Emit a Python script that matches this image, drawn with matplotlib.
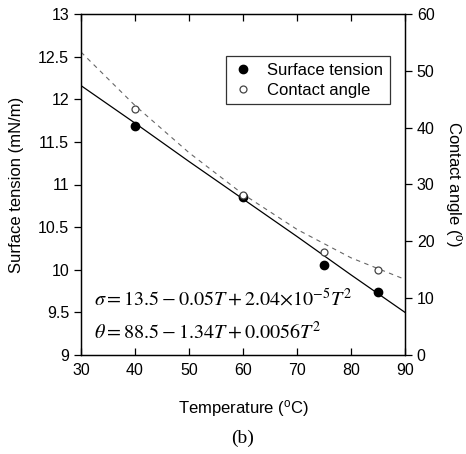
import numpy as np
import matplotlib
matplotlib.use("Agg")
from matplotlib import pyplot as plt

plt.rcParams['font.family'] = ['Liberation Sans', 'DejaVu Sans']
plt.rcParams['mathtext.fontset'] = 'stix'

# measured data
temp = [40, 60, 75, 85]
surface_tension = [11.69, 10.85, 10.06, 9.735]
contact_angle = [43.2, 28.2, 18.1, 15.0]

# fitted curves
fit_temp = [30, 40, 50, 60, 70, 80, 90]
fit_tension = [12.16, 11.72, 11.27, 10.83, 10.39, 9.94, 9.50]
fit_angle = [53.3, 43.9, 35.6, 28.3, 22.1, 17.1, 13.3]

fig = plt.figure(figsize=(4.66, 4.54), dpi=100)
ax = fig.add_axes([81/466, 1-355/454, 324/466, 341/454])
ax2 = ax.twinx()

ax.plot(fit_temp, fit_tension, color='black', lw=0.9, zorder=2)
ax.plot(temp, surface_tension, 'o', color='black', ms=6, label='Surface tension', zorder=3)
ax2.plot(fit_temp, fit_angle, color='#666666', lw=0.8, ls=(0, (4, 4)), zorder=2)
ax2.plot(temp, contact_angle, 'o', mfc='white', mec='#444444', mew=0.9, ms=5,
         label='Contact angle', zorder=3)

ax.set_xlim(30, 90)
ax.set_ylim(9, 13)
ax2.set_ylim(0, 60)
ax.set_xticks(np.arange(30, 91, 10))
ax.set_yticks(np.arange(9, 13.01, 0.5))
ax.set_yticklabels(['9', '9.5', '10', '10.5', '11', '11.5', '12', '12.5', '13'])
ax2.set_yticks(np.arange(0, 61, 10))

fs = 11.5
ax.tick_params(axis='x', direction='in', top=True, length=5, width=0.9, labelsize=fs, pad=6)
ax.tick_params(axis='y', direction='out', length=5, width=0.9, labelsize=fs)
ax2.tick_params(axis='y', direction='out', length=5, width=0.9, labelsize=fs)
for a in (ax, ax2):
    for s in a.spines.values():
        s.set_linewidth(0.9)

ax.set_xlabel('Temperature ($\\mathregular{^o}$C)', fontsize=12, labelpad=14)
ax.set_ylabel('Surface tension (mN/m)', fontsize=12, labelpad=10)
ax2.set_ylabel('Contact angle ($\\mathregular{^o}$)', fontsize=12, rotation=-90, labelpad=21)

h1, l1 = ax.get_legend_handles_labels()
h2, l2 = ax2.get_legend_handles_labels()
leg = ax2.legend(h1 + h2, l1 + l2, loc='upper right', bbox_to_anchor=(0.954, 0.877),
                 borderaxespad=0, fontsize=12, frameon=True, fancybox=False,
                 edgecolor='black', handletextpad=0.8, handlelength=1.3,
                 borderpad=0.4, labelspacing=0.3)
leg.get_frame().set_linewidth(0.9)

ax.text(0.04, 0.145, r'$\sigma = 13.5 - 0.05T + 2.04{\times}10^{-5}T^2$',
        transform=ax.transAxes, fontsize=14.5)
ax.text(0.04, 0.05, r'$\theta = 88.5 - 1.34T + 0.0056T^2$',
        transform=ax.transAxes, fontsize=14.5)

fig.text(243/466, 1-438/454, '(b)', ha='center', va='center', fontsize=14,
         family='Liberation Serif')

fig.savefig('out.png', dpi=100)
